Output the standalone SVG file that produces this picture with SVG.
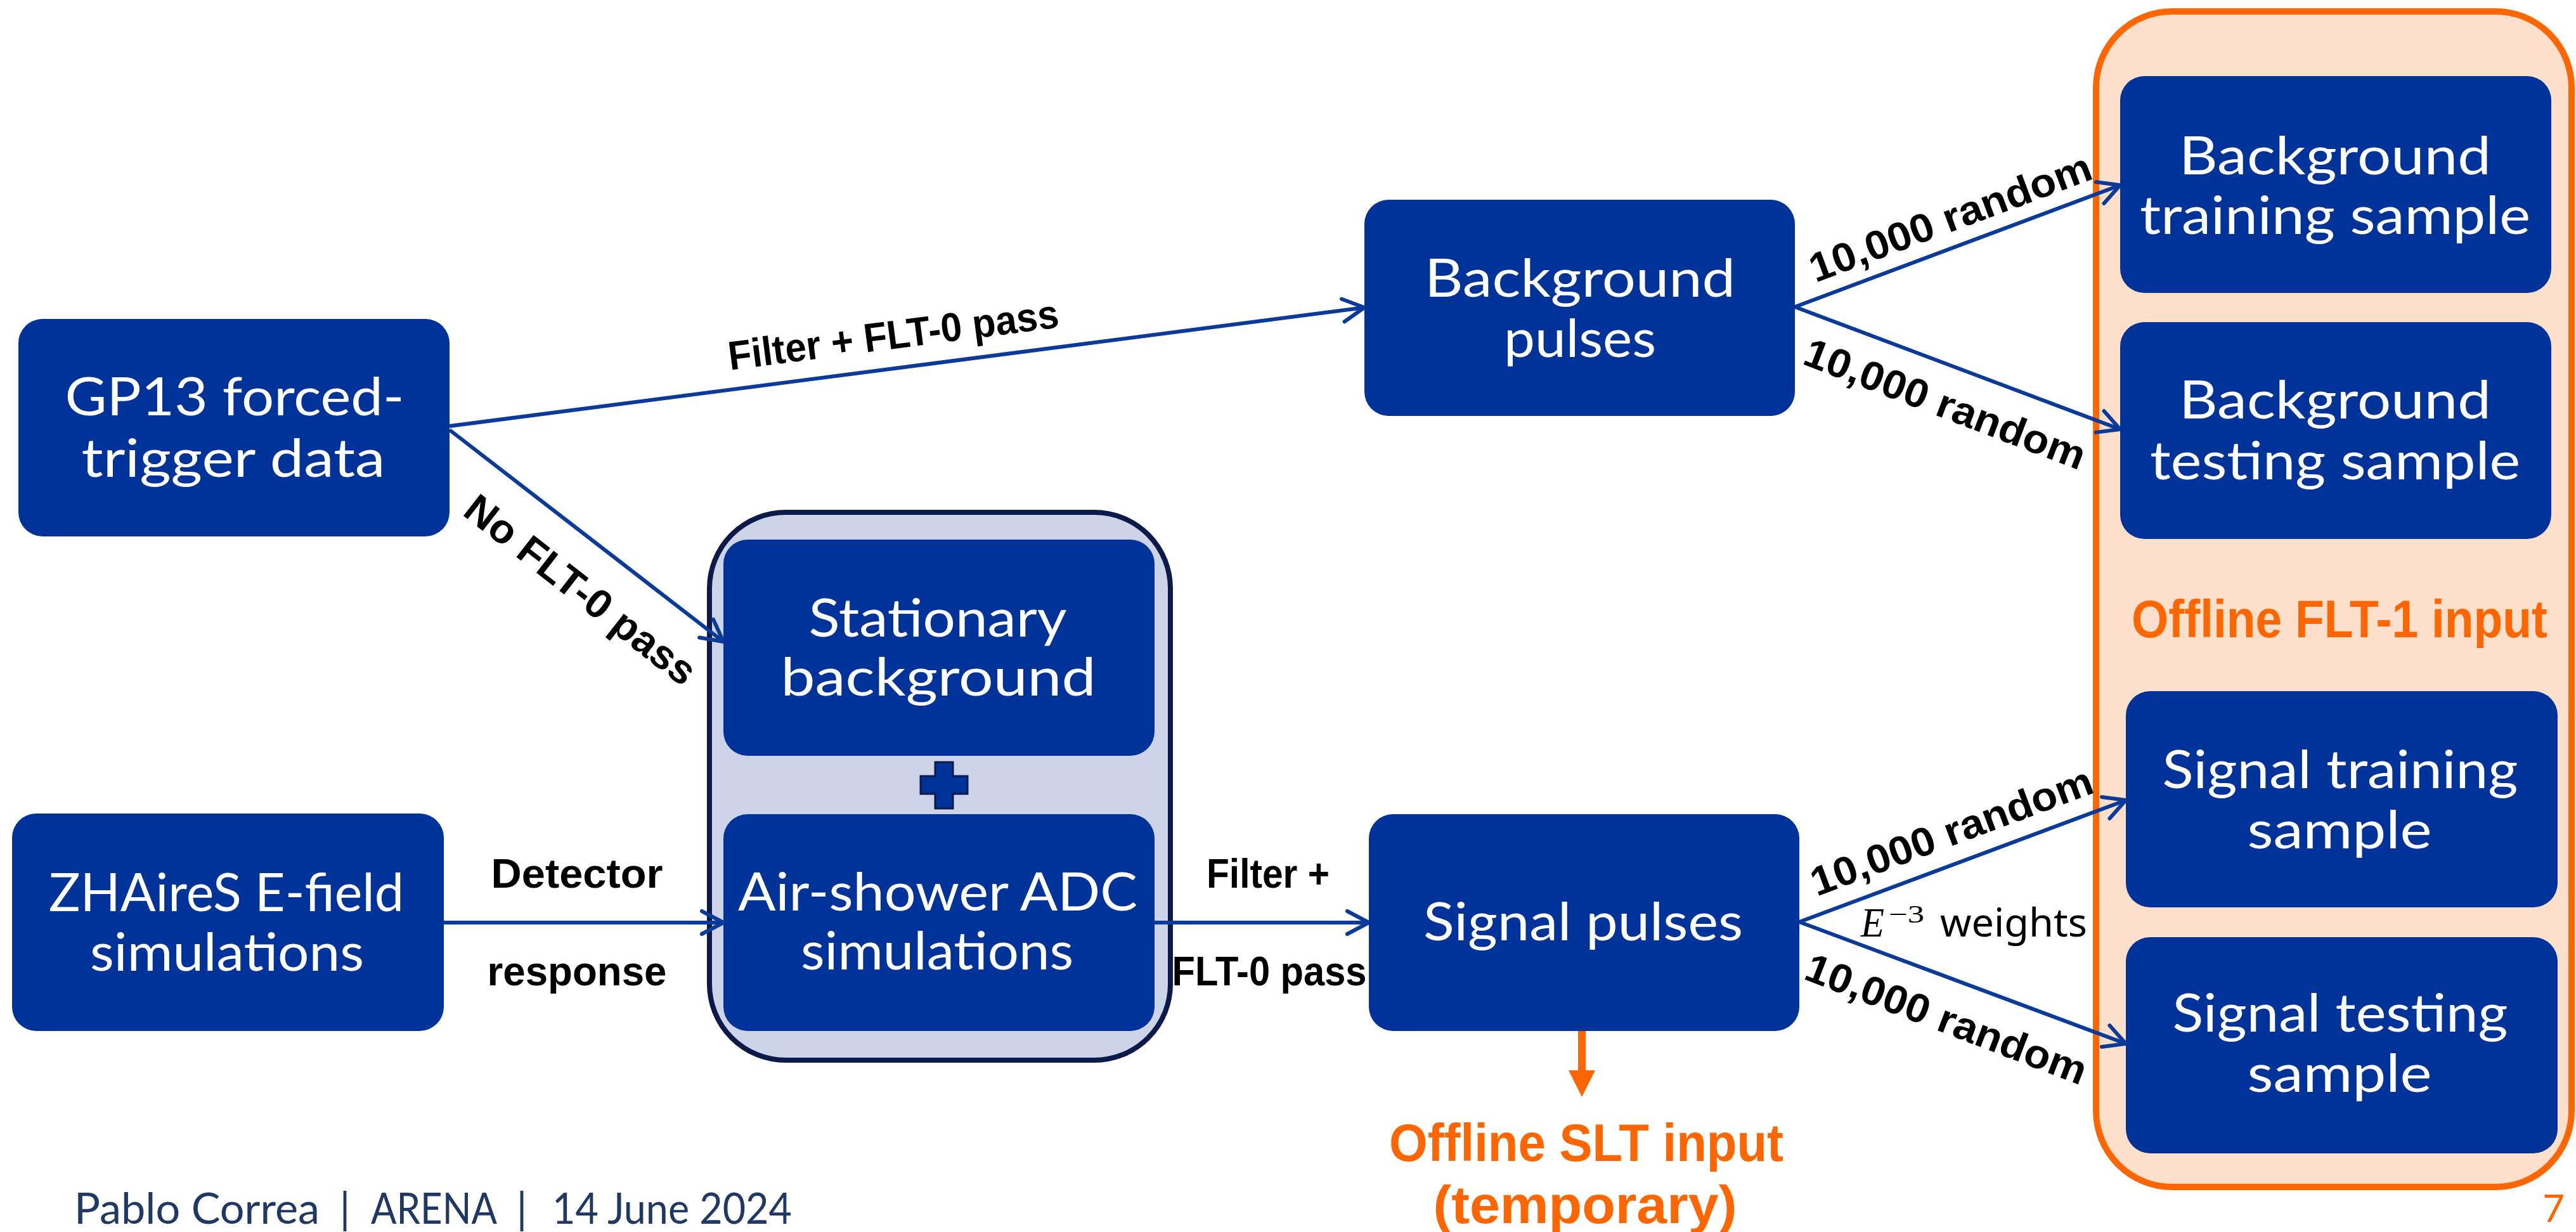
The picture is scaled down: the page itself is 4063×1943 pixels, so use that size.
<svg xmlns="http://www.w3.org/2000/svg" width="4063" height="1943" viewBox="0 0 4063 1943">
<defs>
<style>
.box{fill:#003399;}
.bt{font-family:Lato,"Noto Sans",sans-serif;font-size:84px;fill:#ffffff;text-anchor:middle;}
.lbl{font-family:"Liberation Sans",Arial,sans-serif;font-weight:bold;font-size:64px;fill:#000000;text-anchor:middle;}
.org{font-family:"Liberation Sans",Arial,sans-serif;font-weight:bold;font-size:84px;fill:#ff6600;text-anchor:middle;}
.ft{font-family:Lato,"Noto Sans",sans-serif;font-size:68px;fill:#1f3864;}
.conn{fill:none;stroke:#0a3a9a;stroke-width:6;marker-end:url(#ah);}
</style>
<marker id="ah" markerUnits="userSpaceOnUse" markerWidth="44" markerHeight="44" viewBox="0 0 44 44" refX="40" refY="22" orient="auto">
<path d="M6,4 L40,22 L6,40" fill="none" stroke="#0a3a9a" stroke-width="6" stroke-linecap="round" stroke-linejoin="round"/>
</marker>
</defs>
<rect width="4063" height="1943" fill="#ffffff"/>

<g id="flt1-group">
<rect x="3306" y="18" width="750" height="1854" rx="120" fill="#fde0cc" stroke="#ff6600" stroke-width="10"/>
<text class="org" x="3690" y="1005" font-size="82" textLength="656" lengthAdjust="spacingAndGlyphs">Offline FLT-1 input</text>
</g>

<g id="sim-group">
<rect x="1119" y="808" width="727" height="864" rx="120" fill="#cdd3e8" stroke="#0b1a48" stroke-width="8"/>
<path d="M1475,1202 h28 v22 h23 v28 h-23 v23 h-28 v-23 h-23 v-28 h23 z" fill="#003399" stroke="#0b1a48" stroke-width="3"/>
</g>

<g id="connectors">
<line class="conn" x1="709" y1="672" x2="2152" y2="485"/>
<line class="conn" x1="709" y1="678" x2="1141" y2="1012"/>
<line class="conn" x1="700" y1="1455" x2="1141" y2="1455"/>
<line class="conn" x1="1821" y1="1455" x2="2159" y2="1455"/>
<line class="conn" x1="2831" y1="484" x2="3344" y2="292"/>
<line class="conn" x1="2831" y1="484" x2="3344" y2="677"/>
<line class="conn" x1="2838" y1="1454" x2="3353" y2="1262"/>
<line class="conn" x1="2838" y1="1454" x2="3353" y2="1646"/>
<rect x="2489" y="1621" width="12" height="68" fill="#ff6600"/>
<polygon points="2474,1688 2516,1688 2495,1730" fill="#ff6600"/>
</g>

<g id="labels">
<text class="lbl" transform="translate(1409,528) rotate(-7.4)" x="0" y="22" font-size="62" textLength="525" lengthAdjust="spacingAndGlyphs">Filter + FLT-0 pass</text>
<text class="lbl" transform="translate(916,930) rotate(38)" x="0" y="22" textLength="444" lengthAdjust="spacingAndGlyphs">No FLT-0 pass</text>
<text class="lbl" x="910" y="1400" textLength="271" lengthAdjust="spacingAndGlyphs">Detector</text>
<text class="lbl" x="910" y="1554" textLength="283" lengthAdjust="spacingAndGlyphs">response</text>
<text class="lbl" x="2000" y="1400" textLength="194" lengthAdjust="spacingAndGlyphs">Filter +</text>
<text class="lbl" x="2002" y="1554" textLength="307" lengthAdjust="spacingAndGlyphs">FLT-0 pass</text>
<text class="lbl" transform="translate(3076,343) rotate(-20.5)" x="0" y="22" textLength="470" lengthAdjust="spacingAndGlyphs">10,000 random</text>
<text class="lbl" transform="translate(3068,637) rotate(21)" x="0" y="22" textLength="470" lengthAdjust="spacingAndGlyphs">10,000 random</text>
<text class="lbl" transform="translate(3078,1311) rotate(-20.5)" x="0" y="22" textLength="470" lengthAdjust="spacingAndGlyphs">10,000 random</text>
<text class="lbl" transform="translate(3070,1607) rotate(21)" x="0" y="22" textLength="470" lengthAdjust="spacingAndGlyphs">10,000 random</text>
<text x="2935" y="1477" font-family="'Liberation Serif',serif" font-style="italic" font-size="66" fill="#000000" textLength="37" lengthAdjust="spacingAndGlyphs">E</text>
<text x="2979" y="1455" font-family="'Liberation Serif',serif" font-size="40" fill="#000000" textLength="56" lengthAdjust="spacingAndGlyphs">−3</text>
<text x="3060" y="1477" font-family="'Noto Sans',sans-serif" font-size="62" fill="#000000" textLength="232" lengthAdjust="spacingAndGlyphs">weights</text>
<text class="org" x="2502" y="1831" textLength="622" lengthAdjust="spacingAndGlyphs">Offline SLT input</text>
<text class="org" x="2500" y="1929" textLength="479" lengthAdjust="spacingAndGlyphs">(temporary)</text>
</g>

<g id="gp13">
<rect class="box" x="29" y="503" width="680" height="343" rx="38"/>
<text class="bt" x="370" y="655" textLength="535" lengthAdjust="spacingAndGlyphs">GP13 forced-</text>
<text class="bt" x="368" y="752" textLength="479" lengthAdjust="spacingAndGlyphs">trigger data</text>
</g>

<g id="zhaires">
<rect class="box" x="19" y="1283" width="681" height="343" rx="38"/>
<text class="bt" x="357" y="1437" textLength="560" lengthAdjust="spacingAndGlyphs">ZHAireS E-field</text>
<text class="bt" x="358" y="1531" textLength="432" lengthAdjust="spacingAndGlyphs">simulations</text>
</g>

<g id="stationary">
<rect class="box" x="1141" y="851" width="680" height="341" rx="38"/>
<text class="bt" x="1479" y="1004" textLength="407" lengthAdjust="spacingAndGlyphs">Stationary</text>
<text class="bt" x="1480" y="1097" textLength="497" lengthAdjust="spacingAndGlyphs">background</text>
</g>

<g id="airshower">
<rect class="box" x="1141" y="1284" width="680" height="342" rx="38"/>
<text class="bt" x="1479" y="1436" textLength="630" lengthAdjust="spacingAndGlyphs">Air-shower ADC</text>
<text class="bt" x="1478" y="1529" textLength="430" lengthAdjust="spacingAndGlyphs">simulations</text>
</g>

<g id="bg-pulses">
<rect class="box" x="2152" y="315" width="679" height="341" rx="38"/>
<text class="bt" x="2492" y="468" textLength="490" lengthAdjust="spacingAndGlyphs">Background</text>
<text class="bt" x="2492" y="563" textLength="240" lengthAdjust="spacingAndGlyphs">pulses</text>
</g>

<g id="sig-pulses">
<rect class="box" x="2159" y="1284" width="679" height="342" rx="38"/>
<text class="bt" x="2497" y="1483" textLength="504" lengthAdjust="spacingAndGlyphs">Signal pulses</text>
</g>

<g id="bg-training">
<rect class="box" x="3344" y="120" width="680" height="342" rx="38"/>
<text class="bt" x="3683" y="275" textLength="492" lengthAdjust="spacingAndGlyphs">Background</text>
<text class="bt" x="3683" y="369" textLength="616" lengthAdjust="spacingAndGlyphs">training sample</text>
</g>

<g id="bg-testing">
<rect class="box" x="3344" y="508" width="680" height="342" rx="38"/>
<text class="bt" x="3683" y="660" textLength="492" lengthAdjust="spacingAndGlyphs">Background</text>
<text class="bt" x="3683" y="756" textLength="584" lengthAdjust="spacingAndGlyphs">testing sample</text>
</g>

<g id="sig-training">
<rect class="box" x="3353" y="1090" width="681" height="341" rx="38"/>
<text class="bt" x="3691" y="1243" textLength="561" lengthAdjust="spacingAndGlyphs">Signal training</text>
<text class="bt" x="3690" y="1338" textLength="291" lengthAdjust="spacingAndGlyphs">sample</text>
</g>

<g id="sig-testing">
<rect class="box" x="3353" y="1478" width="681" height="341" rx="38"/>
<text class="bt" x="3691" y="1627" textLength="529" lengthAdjust="spacingAndGlyphs">Signal testing</text>
<text class="bt" x="3690" y="1722" textLength="291" lengthAdjust="spacingAndGlyphs">sample</text>
</g>

<g id="footer">
<text class="ft" x="117" y="1930" textLength="387" lengthAdjust="spacingAndGlyphs">Pablo Correa</text>
<text class="ft" x="544" y="1930" text-anchor="middle">|</text>
<text class="ft" x="585" y="1930" textLength="199" lengthAdjust="spacingAndGlyphs">ARENA</text>
<text class="ft" x="823" y="1930" text-anchor="middle">|</text>
<text class="ft" x="871" y="1930" textLength="378" lengthAdjust="spacingAndGlyphs">14 June 2024</text>
<text x="4045" y="1927" font-family="Lato,'Noto Sans',sans-serif" font-size="60" fill="#ff6600" text-anchor="end">7</text>
</g>
</svg>
